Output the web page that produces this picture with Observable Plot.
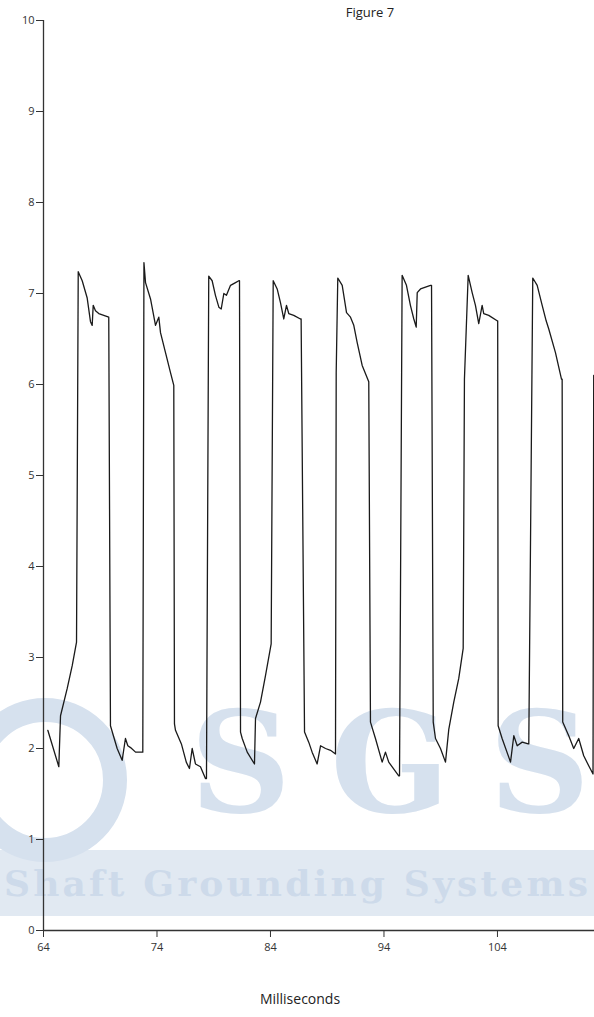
<!DOCTYPE html>
<html>
<head>
<meta charset="utf-8">
<script src="https://cdn.jsdelivr.net/npm/d3@7"></script>
<script src="https://cdn.jsdelivr.net/npm/@observablehq/plot@0.6"></script>
<style>
  html, body { margin: 0; padding: 0; background: #fff; }
  #wrap { position: relative; width: 594px; height: 1017px; overflow: hidden; font-family: "Open Sans", Lato, sans-serif; }
  #wm { position: absolute; left: 0; top: 0; width: 594px; height: 1017px; pointer-events: none; }
  #chart { position: absolute; left: 0; top: 0; }
  #title { position: absolute; left: 0; top: 3px; width: 740px; text-align: center; font-size: 13px; color: #222; }
  #xlabel { position: absolute; left: 0; top: 989px; width: 600px; text-align: center; font-size: 14px; color: #222; }
</style>
</head>
<body>
<div id="wrap">
  <svg id="wm" width="594" height="1017">
    <rect x="0" y="850" width="594" height="66" fill="#e1e9f2"></rect>
    <circle cx="45" cy="780" r="70" fill="none" stroke="#d6e1ee" stroke-width="24"></circle>
    <text x="590" y="812" text-anchor="end" font-family="DejaVu Serif" font-weight="bold" font-size="140" fill="#d6e1ee" textLength="400">SGS</text>
    <text x="4" y="896" font-family="DejaVu Serif" font-weight="bold" font-size="36" fill="#cddaea" textLength="584" lengthAdjust="spacing">Shaft Grounding Systems</text>
  </svg>
  <div id="chart"></div>
  <div id="title">Figure 7</div>
  <div id="xlabel">Milliseconds</div>
</div>
<script>
// Waveform trace: time (ms) and voltage
const ms = [
  64.38, 65.35, 65.50, 66.09, 66.53, 66.91, 67.06, 67.41, 67.85, 68.14, 68.29, 68.38, 68.58, 68.87, 69.75,
  69.90, 70.49, 70.93, 71.22, 71.43, 71.67, 72.11, 72.70, 72.75,
  72.85, 72.99, 73.43, 73.87, 74.16, 74.31, 74.75, 75.19, 75.48,
  75.54, 75.63, 76.15, 76.58, 76.86, 77.10, 77.39, 77.83, 78.27, 78.36,
  78.56, 78.86, 79.15, 79.45, 79.66, 79.89, 80.12, 80.48, 80.92, 81.21, 81.27,
  81.36, 81.51, 81.95, 82.59, 82.68, 83.12, 83.56, 84.06,
  84.24, 84.59, 84.88, 85.17, 85.41, 85.61, 86.05, 86.64, 86.70,
  87.00, 87.37, 87.67, 88.11, 88.41, 88.85, 89.29, 89.73,
  89.79, 89.93, 90.32, 90.70, 91.05, 91.34, 91.64, 92.08, 92.66,
  92.81, 93.25, 93.84, 94.13, 94.42, 95.30, 95.37,
  95.60, 95.98, 96.33, 96.63, 96.84, 96.93, 97.22, 97.66, 98.10, 98.19,
  98.34, 98.54, 98.98, 99.42, 99.71, 100.15, 100.59, 100.98,
  101.09, 101.42, 101.77, 102.06, 102.35, 102.65, 102.79, 103.23, 103.97, 104.02,
  104.06, 104.41, 105.15, 105.44, 105.74, 106.18, 106.71, 106.76,
  107.11, 107.50, 107.94, 108.29, 108.52, 109.11, 109.64, 109.70,
  109.75, 110.28, 110.72, 111.16, 111.60, 112.04, 112.42, 112.48
];
const volts = [
  2.20, 1.80, 2.36, 2.66, 2.91, 3.17, 7.24, 7.14, 6.95, 6.69, 6.65, 6.87, 6.81, 6.78, 6.74,
  2.25, 2.00, 1.87, 2.11, 2.03, 2.01, 1.96, 1.96, 1.96,
  7.34, 7.12, 6.94, 6.65, 6.74, 6.57, 6.35, 6.13, 5.99,
  2.27, 2.20, 2.05, 1.85, 1.78, 2.00, 1.83, 1.80, 1.67, 1.67,
  7.19, 7.14, 6.98, 6.85, 6.83, 7.00, 6.98, 7.09, 7.12, 7.14, 7.14,
  2.18, 2.11, 1.96, 1.83, 2.33, 2.51, 2.80, 3.15,
  7.14, 7.05, 6.90, 6.72, 6.87, 6.78, 6.76, 6.72, 6.72,
  2.18, 2.07, 1.96, 1.83, 2.03, 2.00, 1.98, 1.94,
  6.13, 7.17, 7.09, 6.79, 6.74, 6.65, 6.46, 6.21, 6.03,
  2.29, 2.11, 1.85, 1.96, 1.85, 1.70, 1.70,
  7.20, 7.09, 6.87, 6.72, 6.63, 7.01, 7.05, 7.07, 7.09, 7.09,
  2.29, 2.11, 2.00, 1.85, 2.21, 2.51, 2.77, 3.10,
  6.06, 7.20, 7.01, 6.87, 6.67, 6.87, 6.78, 6.76, 6.70, 6.70,
  2.25, 2.11, 1.85, 2.14, 2.03, 2.07, 2.05, 2.05,
  7.17, 7.09, 6.87, 6.70, 6.61, 6.35, 6.06, 6.06,
  2.29, 2.14, 2.00, 2.11, 1.92, 1.81, 1.72, 6.10
];
const xTicks = [64, 74, 84, 94, 104];
const yTicks = [0, 1, 2, 3, 4, 5, 6, 7, 8, 9, 10];

const data = ms.map((t, i) => ({t, v: volts[i]}));

const chart = Plot.plot({
  width: 594,
  height: 1017,
  marginTop: 20,
  marginBottom: 87,
  marginLeft: 43,
  marginRight: 0,
  style: {background: "transparent", fontFamily: "'Open Sans', Lato, sans-serif", fontSize: "11px", color: "#333"},
  x: {domain: [64, 112.55], ticks: xTicks, label: null},
  y: {domain: [0, 10], ticks: yTicks, label: null},
  marks: [
    Plot.axisX({ticks: xTicks, tickSize: 7, tickPadding: 6, tickFormat: d => String(d), stroke: "#333", fill: "#333", label: null}),
    Plot.axisY({ticks: yTicks, tickSize: 7, tickPadding: 2, tickFormat: d => String(d), stroke: "#333", fill: "#333", label: null}),
    Plot.ruleX([64], {stroke: "#333", strokeWidth: 1.3}),
    Plot.ruleY([0], {stroke: "#333", strokeWidth: 1.3}),
    Plot.line(data, {x: "t", y: "v", stroke: "#1a1a1a", strokeWidth: 1.3, strokeLinejoin: "round", curve: "linear"})
  ]
});
document.getElementById("chart").appendChild(chart);
</script>
</body>
</html>
